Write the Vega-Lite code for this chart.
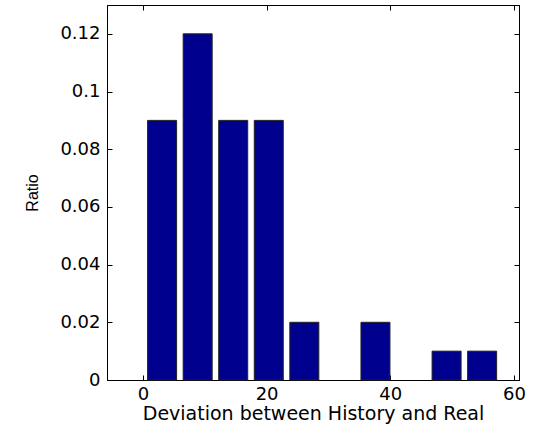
{
  "$schema": "https://vega.github.io/schema/vega-lite/v6.json",
  "width": 412,
  "height": 375,
  "autosize": {"type": "none"},
  "padding": {"left": 107, "top": 5, "right": 17, "bottom": 49},
  "background": "white",
  "config": {
    "view": {"stroke": "black", "strokeWidth": 1},
    "axis": {
      "grid": false,
      "domainColor": "black",
      "tickColor": "black",
      "labelColor": "black",
      "titleColor": "black",
      "labelFont": "DejaVu Sans",
      "titleFont": "DejaVu Sans",
      "labelFontSize": 18,
      "titleFontSize": 19,
      "titleFontWeight": "normal",
      "tickSize": -5
    }
  },
  "data": {
    "values": [
      {"deviation": 3.1, "ratio": 0.09},
      {"deviation": 8.85, "ratio": 0.12},
      {"deviation": 14.6, "ratio": 0.09},
      {"deviation": 20.35, "ratio": 0.09},
      {"deviation": 26.1, "ratio": 0.02},
      {"deviation": 31.85, "ratio": 0},
      {"deviation": 37.6, "ratio": 0.02},
      {"deviation": 43.35, "ratio": 0},
      {"deviation": 49.1, "ratio": 0.01},
      {"deviation": 54.85, "ratio": 0.01}
    ]
  },
  "layer": [
    {
      "transform": [{"filter": "datum.ratio > 0"}],
      "mark": {"type": "bar", "size": 29, "color": "#00008F", "stroke": "#222222", "strokeWidth": 1},
      "encoding": {
        "x": {
          "field": "deviation", "type": "quantitative",
          "scale": {"domain": [-5, 60], "nice": false, "zero": false},
          "axis": {"values": [0, 20, 40, 60], "title": "Deviation between History and Real", "labelPadding": 10, "titlePadding": 1, "labelFlush": false}
        },
        "y": {
          "field": "ratio", "type": "quantitative",
          "scale": {"domain": [0, 0.13], "nice": false},
          "axis": {"values": [0, 0.02, 0.04, 0.06, 0.08, 0.1, 0.12], "labelExpr": "'' + datum.value", "title": "Ratio", "labelPadding": 12, "titlePadding": 19, "titleFont": "Liberation Sans", "titleFontSize": 16, "labelFlush": false}
        }
      }
    },
    {
      "mark": {"type": "point", "opacity": 0},
      "encoding": {
        "x": {"field": "deviation", "type": "quantitative", "axis": {"orient": "top", "values": [0, 20, 40, 60], "labels": false, "title": null}},
        "y": {"field": "ratio", "type": "quantitative", "axis": {"orient": "right", "values": [0, 0.02, 0.04, 0.06, 0.08, 0.1, 0.12], "labels": false, "title": null}}
      }
    }
  ],
  "resolve": {"axis": {"x": "independent", "y": "independent"}}
}
